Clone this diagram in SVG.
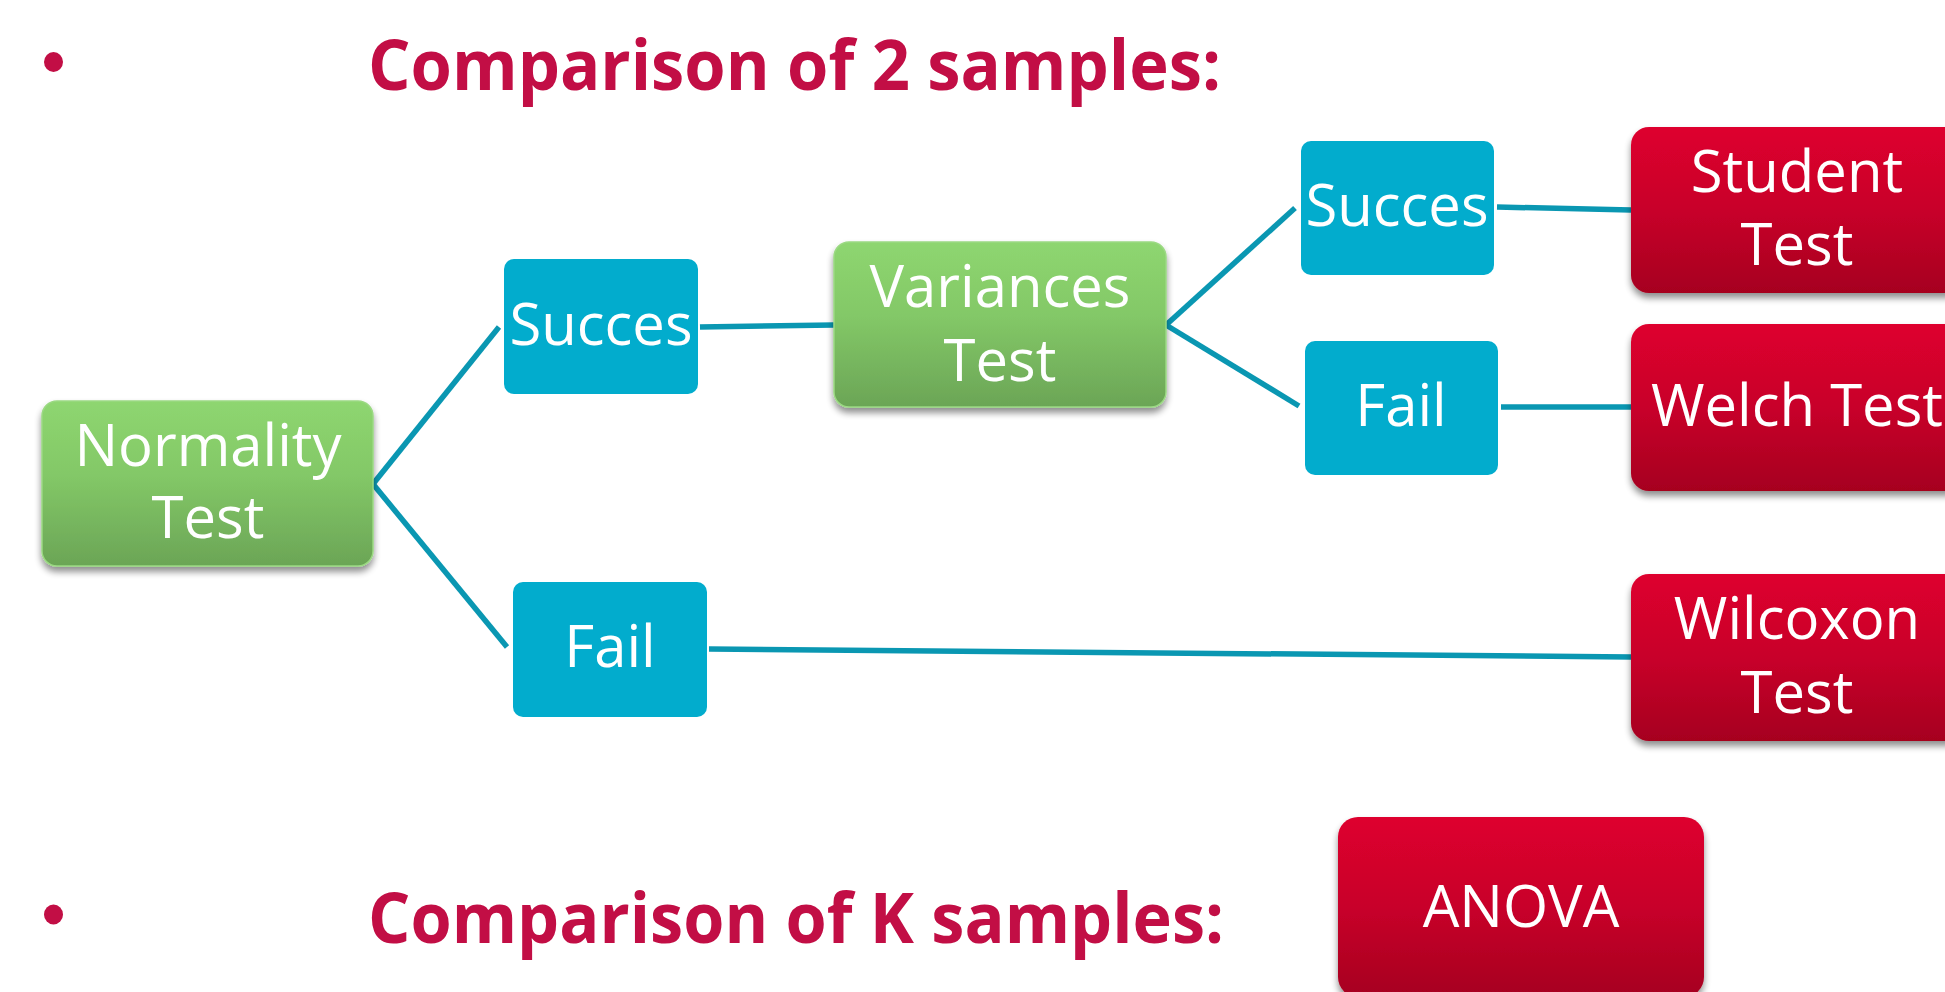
<svg xmlns="http://www.w3.org/2000/svg" width="1945" height="992" viewBox="0 0 1945 992">
  <defs>
    <linearGradient id="gGreen" x1="0" y1="0" x2="0" y2="1">
      <stop offset="0" stop-color="#8ED670"/>
      <stop offset="0.45" stop-color="#83C867"/>
      <stop offset="1" stop-color="#6BA556"/>
    </linearGradient>
    <linearGradient id="gRed" x1="0" y1="0" x2="0" y2="1">
      <stop offset="0" stop-color="#DE002E"/>
      <stop offset="0.5" stop-color="#C8002A"/>
      <stop offset="1" stop-color="#A6001F"/>
    </linearGradient>
    <filter id="shadow" x="-10%" y="-10%" width="120%" height="130%">
      <feGaussianBlur in="SourceAlpha" stdDeviation="3.5"/>
      <feOffset dx="0" dy="5" result="b"/>
      <feComponentTransfer><feFuncA type="linear" slope="0.45"/></feComponentTransfer>
      <feMerge><feMergeNode/><feMergeNode in="SourceGraphic"/></feMerge>
    </filter>
  </defs>
  <style>
    .title { font-family: "Open Sans", "Noto Sans", sans-serif; font-weight: 700; font-size: 70px; fill: #C20E45; }
    .bullet { fill: #C20E45; }
    .lbl { font-family: "Open Sans", "Noto Sans", sans-serif; font-size: 58px; fill: #FFFFFF; text-anchor: middle; }
    .green { fill: url(#gGreen); stroke: #9BD983; stroke-width: 1.5; filter: url(#shadow); }
    .red { fill: url(#gRed); filter: url(#shadow); }
    .blue { fill: #02ACCD; }
    .edge { stroke: #0A97B2; stroke-width: 5.5; fill: none; stroke-linecap: butt; }
  </style>

  <rect width="1945" height="992" fill="#FFFFFF"/>

  <!-- headings -->
  <g id="heading-2-samples">
    <ellipse class="bullet" cx="53.5" cy="62" rx="9.5" ry="10"/>
    <text class="title" x="368" y="90" textLength="853" lengthAdjust="spacingAndGlyphs">Comparison of 2 samples:</text>
  </g>
  <g id="heading-k-samples">
    <ellipse class="bullet" cx="53.5" cy="914.5" rx="9.5" ry="10"/>
    <text class="title" x="368" y="943" textLength="856" lengthAdjust="spacingAndGlyphs">Comparison of K samples:</text>
  </g>

  <!-- connectors -->
  <g id="connectors">
    <line class="edge" x1="373" y1="484" x2="499" y2="327"/>
    <line class="edge" x1="373" y1="484" x2="507" y2="647"/>
    <line class="edge" x1="700" y1="327" x2="834" y2="325"/>
    <line class="edge" x1="1166" y1="325" x2="1295" y2="208"/>
    <line class="edge" x1="1166" y1="325" x2="1299" y2="406"/>
    <line class="edge" x1="1497" y1="207" x2="1631" y2="210"/>
    <line class="edge" x1="1501" y1="407" x2="1631" y2="407"/>
    <line class="edge" x1="709" y1="649" x2="1631" y2="657"/>
  </g>

  <!-- nodes -->
  <g id="normality-test">
    <rect class="green" x="42" y="401" width="331" height="165" rx="15"/>
    <text class="lbl" x="208" y="466">Normality</text>
    <text class="lbl" x="208" y="538">Test</text>
  </g>
  <g id="normality-succes">
    <rect class="blue" x="504" y="259" width="194" height="135" rx="10"/>
    <text class="lbl" x="601" y="345">Succes</text>
  </g>
  <g id="normality-fail">
    <rect class="blue" x="513" y="582" width="194" height="135" rx="10"/>
    <text class="lbl" x="610" y="667">Fail</text>
  </g>
  <g id="variances-test">
    <rect class="green" x="834" y="242" width="332" height="165" rx="15"/>
    <text class="lbl" x="1000" y="307">Variances</text>
    <text class="lbl" x="1000" y="381">Test</text>
  </g>
  <g id="variances-succes">
    <rect class="blue" x="1301" y="141" width="193" height="134" rx="10"/>
    <text class="lbl" x="1397" y="226">Succes</text>
  </g>
  <g id="variances-fail">
    <rect class="blue" x="1305" y="341" width="193" height="134" rx="10"/>
    <text class="lbl" x="1401" y="426">Fail</text>
  </g>
  <g id="student-test">
    <rect class="red" x="1631" y="127" width="332" height="166" rx="18"/>
    <text class="lbl" x="1797" y="192">Student</text>
    <text class="lbl" x="1797" y="265">Test</text>
  </g>
  <g id="welch-test">
    <rect class="red" x="1631" y="324" width="332" height="167" rx="18"/>
    <text class="lbl" x="1797" y="426">Welch Test</text>
  </g>
  <g id="wilcoxon-test">
    <rect class="red" x="1631" y="574" width="332" height="167" rx="18"/>
    <text class="lbl" x="1797" y="639">Wilcoxon</text>
    <text class="lbl" x="1797" y="713">Test</text>
  </g>
  <g id="anova">
    <rect class="red" x="1338" y="817" width="366" height="180" rx="20"/>
    <text class="lbl" x="1521" y="927">ANOVA</text>
  </g>
</svg>
